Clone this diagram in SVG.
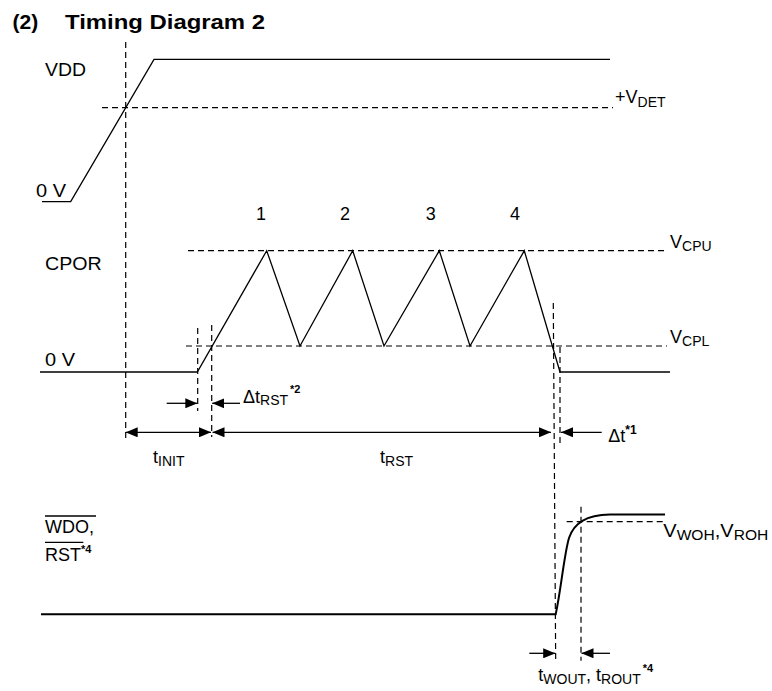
<svg xmlns="http://www.w3.org/2000/svg" width="772" height="691" viewBox="0 0 772 691">
<style>
text{font-family:"Liberation Sans",Arial,sans-serif;font-size:18px;fill:#000}
.b{font-weight:bold}
.sub{font-size:14px}
.sup{font-size:11px;font-weight:bold}
.s{fill:none;stroke:#000;stroke-width:1.3}
.d{fill:none;stroke:#000;stroke-width:1.2;stroke-dasharray:6 4}
.a{fill:none;stroke:#000;stroke-width:1.3}
</style>
<defs>
<marker id="ah" viewBox="0 0 12 10" refX="12" refY="5" markerWidth="12" markerHeight="10" markerUnits="userSpaceOnUse" orient="auto-start-reverse"><path d="M0,0 L12,5 L0,10 z" fill="#000"/></marker>
</defs>
<rect width="772" height="691" fill="#fff"/>
<g id="title">
<text class="b" x="12.5" y="29" style="font-size:21px">(2)</text>
<text class="b" x="65" y="29" style="font-size:21px" textLength="200" lengthAdjust="spacingAndGlyphs">Timing Diagram 2</text>
</g>
<g id="vdd">
<text x="45" y="76" textLength="41" lengthAdjust="spacingAndGlyphs">VDD</text>
<text x="36" y="196.7" textLength="30" lengthAdjust="spacingAndGlyphs">0 V</text>
<polyline class="s" points="42,201.7 70.7,201.7 154,59.3 610,59.3"/>
<line class="d" x1="102" y1="107.7" x2="613" y2="107.7"/>
<text x="615" y="103.3">+V<tspan class="sub" dy="3.4">DET</tspan></text>
</g>
<g id="cpor">
<text x="45" y="270" textLength="56.7" lengthAdjust="spacingAndGlyphs">CPOR</text>
<text x="45" y="365.7" textLength="30" lengthAdjust="spacingAndGlyphs">0 V</text>
<text x="256" y="220">1</text>
<text x="340" y="220">2</text>
<text x="425.7" y="220">3</text>
<text x="510" y="220">4</text>
<line class="d" x1="188" y1="250.7" x2="667" y2="250.7"/>
<line class="d" x1="186" y1="346" x2="667" y2="346"/>
<polyline class="s" points="40,372 197.3,372 266.7,250.7 300,346 352.7,250.7 384,346 439.3,250.7 470,346 524.3,250.7 560,372 670,372"/>
<text x="670" y="248.3">V<tspan class="sub" dy="2.7">CPU</tspan></text>
<text x="670" y="343.3">V<tspan class="sub" dy="2.7">CPL</tspan></text>
</g>
<g id="wdo">
<text x="45" y="533.3">WDO,</text>
<line x1="45" y1="516" x2="96" y2="516" stroke="#000" stroke-width="1.3"/>
<text x="45" y="561">RST<tspan class="sup" dy="-8">*4</tspan></text>
<line x1="45" y1="542.3" x2="83.3" y2="542.3" stroke="#000" stroke-width="1.3"/>
<path d="M41,614.3 L555.7,614.3 C561,590 564,555 569,538 C574,523 586,515 610,514.6 L665,514.5" fill="none" stroke="#000" stroke-width="2"/>
<line class="d" x1="566.7" y1="521.7" x2="665" y2="521.7"/>
<text x="663.3" y="537.3" textLength="105" lengthAdjust="spacingAndGlyphs">V<tspan class="sub" dy="2.7">WOH</tspan><tspan dy="-2.7">,V</tspan><tspan class="sub" dy="2.7">ROH</tspan></text>
</g>
<g id="connectors">
<line class="d" x1="125.7" y1="42" x2="125.7" y2="440"/>
<line class="d" x1="197.7" y1="328" x2="197.7" y2="411"/>
<line class="d" x1="211.7" y1="325" x2="211.7" y2="437"/>
<line class="d" x1="553.3" y1="303" x2="555.7" y2="663"/>
<line class="d" x1="560" y1="347" x2="560" y2="445"/>
<line class="d" x1="581" y1="506.7" x2="581" y2="660.7"/>
<line class="a" x1="125.7" y1="432.3" x2="211" y2="432.3" marker-start="url(#ah)" marker-end="url(#ah)"/>
<line class="a" x1="212.5" y1="432.3" x2="551" y2="432.3" marker-start="url(#ah)" marker-end="url(#ah)"/>
<line class="a" x1="166.7" y1="403.3" x2="197.3" y2="403.3" marker-end="url(#ah)"/>
<line class="a" x1="240" y1="403.3" x2="212.2" y2="403.3" marker-end="url(#ah)"/>
<line class="a" x1="601.7" y1="432.3" x2="561" y2="432.3" marker-end="url(#ah)"/>
<line class="a" x1="529.3" y1="653.3" x2="555.2" y2="653.3" marker-end="url(#ah)"/>
<line class="a" x1="610" y1="653.3" x2="581.5" y2="653.3" marker-end="url(#ah)"/>
</g>
<g id="labels">
<text x="153" y="463">t<tspan class="sub" dy="3">INIT</tspan></text>
<text x="380" y="463">t<tspan class="sub" dy="3">RST</tspan></text>
<text x="243" y="402.7">Δt<tspan class="sub" dy="2.5">RST</tspan><tspan class="sup" dx="2" dy="-12">*2</tspan></text>
<text x="608.3" y="441.7">Δt<tspan class="sup" style="font-size:12px" dy="-8">*1</tspan></text>
<text x="538.3" y="681">t<tspan class="sub" dy="3">WOUT</tspan><tspan dy="-3">, t</tspan><tspan class="sub" dy="3">ROUT</tspan><tspan class="sup" dx="2" dy="-12">*4</tspan></text>
</g>
</svg>
